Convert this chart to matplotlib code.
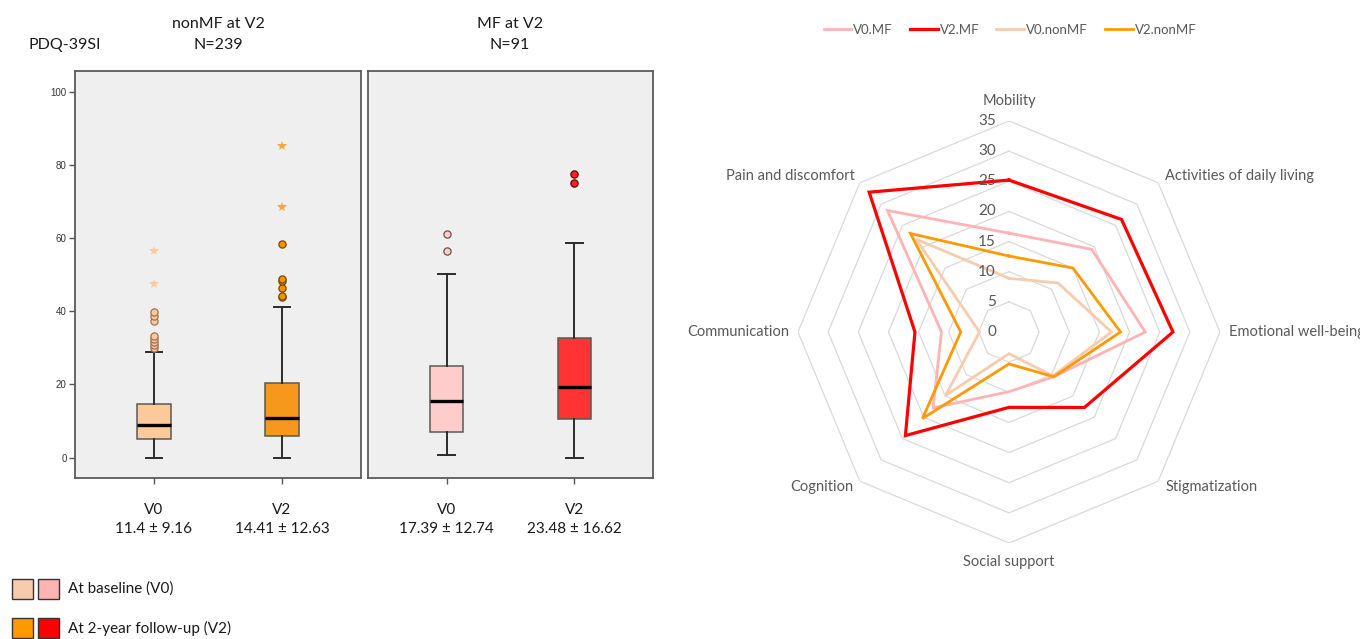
import numpy as np
import matplotlib
matplotlib.use("Agg")
import matplotlib.pyplot as plt
from matplotlib.patches import Rectangle
from matplotlib.lines import Line2D

# ---- PDQ-39SI box plot summaries (nonMF / MF groups at V0 and V2) ----
box_labels = ["V0", "V2"]
nonmf_q = {"whislo": [0.0, 0.0], "q1": [5.2, 5.8], "med": [9.0, 10.9],
           "q3": [14.7, 20.5], "whishi": [28.9, 41.2]}
nonmf_outliers = [[29.9, 30.8, 31.6, 32.4, 33.4, 37.5, 38.7, 39.7],
                  [43.9, 44.3, 46.3, 48.2, 48.8, 58.4]]
nonmf_extremes = [[47.5, 56.6], [68.7, 85.4]]
nonmf_summary = ["11.4 \u00b1 9.16", "14.41 \u00b1 12.63"]

mf_q = {"whislo": [0.8, 0.0], "q1": [7.1, 10.5], "med": [15.5, 19.3],
        "q3": [25.1, 32.7], "whishi": [50.2, 58.6]}
mf_outliers = [[56.6, 61.1], [75.2, 77.7]]
mf_extremes = [[], []]
mf_summary = ["17.39 \u00b1 12.74", "23.48 \u00b1 16.62"]

y_ticks = [0, 20, 40, 60, 80, 100]

# ---- PDQ-39 domain scores for the radar chart ----
domains = ["Mobility", "Activities of daily living", "Emotional well-being",
           "Stigmatization", "Social support", "Cognition", "Communication",
           "Pain and discomfort"]
v0_mf = [16.4, 19.4, 22.6, 10.5, 9.9, 17.8, 11.2, 28.5]
v2_mf = [25.2, 26.4, 27.2, 17.7, 12.5, 24.3, 15.6, 32.8]
v0_nonmf = [8.9, 11.5, 17.0, 10.3, 3.6, 14.9, 4.9, 21.8]
v2_nonmf = [12.6, 15.0, 18.5, 10.5, 5.3, 20.3, 8.0, 23.1]
radar_levels = [0, 5, 10, 15, 20, 25, 30, 35]

# colours
C_V0_NON, C_V2_NON = "#FCC99A", "#F7981D"
C_V0_MF, C_V2_MF = "#FFCCCC", "#FF3333"
L_V0_MF, L_V2_MF, L_V0_NON, L_V2_NON = "#FFB3B3", "#FF0000", "#F8CBAD", "#FF9900"

CAL = ["Lato", "DejaVu Sans"]
ARI = ["Liberation Sans", "DejaVu Sans"]

W, H = 1360, 639
fig = plt.figure(figsize=(W / 100, H / 100), dpi=100)


def fx(x):
    return x / W


def fy(y):
    return 1 - y / H


def box_panel(rect, q, outliers, extremes, fills, flier_fc, flier_ec, star_c,
              summary, show_y):
    ax = fig.add_axes(rect)
    ax.set_facecolor("#EFEFEF")
    stats = []
    for i in range(2):
        stats.append({"whislo": q["whislo"][i], "q1": q["q1"][i],
                      "med": q["med"][i], "q3": q["q3"][i],
                      "whishi": q["whishi"][i], "fliers": outliers[i],
                      "label": box_labels[i]})
    art = ax.bxp(stats, positions=[1, 2], widths=0.26, capwidths=0.13,
                 patch_artist=True, showfliers=True,
                 medianprops=dict(color="black", lw=2.4),
                 whiskerprops=dict(color="#2b2b2b", lw=1.4),
                 capprops=dict(color="#2b2b2b", lw=1.4),
                 boxprops=dict(edgecolor="#5a5a5a", lw=1.1),
                 flierprops=dict(marker="o", markersize=5.2, lw=0))
    for i in range(2):
        art["boxes"][i].set_facecolor(fills[i])
        fl = art["fliers"][i]
        fl.set_markerfacecolor(flier_fc[i])
        fl.set_markeredgecolor(flier_ec[i])
        fl.set_markeredgewidth(0.9)
        if extremes[i]:
            ax.plot([i + 1] * len(extremes[i]), extremes[i], ls="none",
                    marker="*", markersize=7, color=star_c[i], mew=0)
    ax.set_xlim(0.384, 2.616)
    ax.set_ylim(-5.6, 105.8)
    ax.set_xticks([1, 2])
    ax.set_xticklabels(["%s\n%s" % (box_labels[i], summary[i]) for i in range(2)],
                       family=CAL, fontsize=11, color="#1a1a1a", linespacing=1.45)
    ax.tick_params(axis="x", length=4, width=1, color="#555555", pad=14)
    if show_y:
        ax.set_yticks(y_ticks)
        ax.set_yticklabels([str(t) for t in y_ticks], family=ARI, fontsize=7,
                           color="#333333")
        ax.tick_params(axis="y", length=4, width=1, color="#555555", pad=2)
    else:
        ax.set_yticks([])
    for s in ax.spines.values():
        s.set_color("#5a5a5a")
        s.set_linewidth(1.3)
    return ax


box_panel([fx(75), fy(478), fx(361 - 75), (478 - 71) / H], nonmf_q,
          nonmf_outliers, nonmf_extremes, [C_V0_NON, C_V2_NON],
          [C_V0_NON, "#F39200"], ["#A07050", "#7a4a00"],
          ["#F9CB9C", "#F4A640"], nonmf_summary, True)
box_panel([fx(368), fy(478), fx(653 - 368), (478 - 71) / H], mf_q,
          mf_outliers, mf_extremes, [C_V0_MF, C_V2_MF],
          ["#FFCCCC", "#FF2020"], ["#6a5050", "#6a0000"],
          ["#FFCCCC", "#FF2020"], mf_summary, False)

title_kw = dict(family=CAL, fontsize=11.5, color="#1a1a1a", ha="center", va="center")
fig.text(fx(65), fy(45), "PDQ-39SI", **title_kw)
fig.text(fx(218), fy(24), "nonMF at V2", **title_kw)
fig.text(fx(218), fy(45), "N=239", **title_kw)
fig.text(fx(510), fy(24), "MF at V2", **title_kw)
fig.text(fx(510), fy(45), "N=91", **title_kw)

# colour key under the box plots
key_rows = [(589, [L_V0_NON, "#FFB3B3"], "At baseline (V0)"),
            (628, ["#FF9900", "#FF0000"], "At 2-year follow-up (V2)")]
for yc, cols, lab in key_rows:
    for x0, c in zip([12, 38], cols):
        fig.add_artist(Rectangle((fx(x0), fy(yc + 10)), fx(21), 20 / H,
                                 transform=fig.transFigure, facecolor=c,
                                 edgecolor="#333333", lw=1.0))
    fig.text(fx(68), fy(yc), lab, family=CAL, fontsize=11, color="#1a1a1a",
             ha="left", va="center")

# ---- radar chart ----
cx, cy, R = 1009, 332, 211
rax = fig.add_axes([fx(cx - R), fy(cy + R), fx(2 * R), 2 * R / H],
                   projection="polar")
rax.set_theta_zero_location("N")
rax.set_theta_direction(-1)
rax.set_ylim(0, 35)
rax.grid(False)
rax.spines["polar"].set_visible(False)
rax.set_xticks([])
rax.set_yticks([])
rax.patch.set_alpha(0)

n = len(domains)
theta = np.arange(n) * 2 * np.pi / n
theta_c = np.append(theta, theta[0])
for lv in radar_levels[1:]:
    rax.plot(theta_c, [lv] * (n + 1), color="#D9D9D9", lw=0.9, zorder=1)

for lv in radar_levels:
    rax.annotate(str(lv), (0, lv), xytext=(-13, 0), textcoords="offset pixels",
                 ha="right", va="center", family=CAL, fontsize=11,
                 color="#595959", zorder=3)

offsets = [(0, 20, "center", "center"), (7, 7, "left", "center"),
           (9, 0, "left", "center"), (7, -6, "left", "center"),
           (0, -19, "center", "center"), (-6, -6, "right", "center"),
           (-9, 0, "right", "center"), (-5, 7, "right", "center")]
for t, name, (dx, dy, ha, va) in zip(theta, domains, offsets):
    rax.annotate(name, (t, 35), xytext=(dx, dy), textcoords="offset pixels",
                 ha=ha, va=va, family=CAL, fontsize=10.5, color="#595959",
                 annotation_clip=False)

series = [("V0.MF", v0_mf, L_V0_MF, 2.0), ("V2.MF", v2_mf, L_V2_MF, 2.3),
          ("V0.nonMF", v0_nonmf, L_V0_NON, 2.0), ("V2.nonMF", v2_nonmf, L_V2_NON, 2.0)]
handles = []
for name, vals, col, lw in series:
    rax.plot(theta_c, list(vals) + [vals[0]], color=col, lw=lw, zorder=2,
             solid_joinstyle="miter")
    handles.append(Line2D([], [], color=col, lw=lw))

fig.legend(handles, [s[0] for s in series], loc="center", ncol=4,
           bbox_to_anchor=(fx(1010), fy(30)), frameon=False,
           prop={"family": CAL, "size": 9.5}, labelcolor="#595959",
           handlelength=2.1, handletextpad=0.15, columnspacing=1.3)

fig.savefig("out.png", dpi=100)
